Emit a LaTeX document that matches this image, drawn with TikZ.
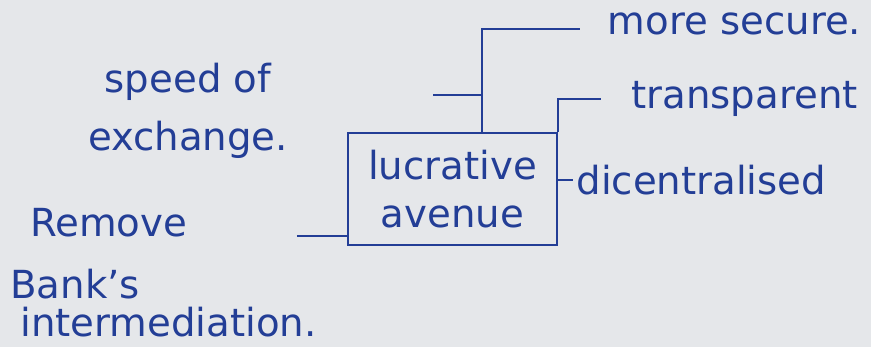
\documentclass[tikz,border=0pt]{standalone}
\usepackage{fontspec}
\setmainfont{DejaVu Sans}
\usepackage{tikz}
\usetikzlibrary{calc}
\usetikzlibrary{positioning}

\definecolor{ink}{RGB}{35,62,150}
\definecolor{paper}{RGB}{229,231,234}

\tikzset{
  pen/.style={draw=ink,line width=1.3pt},
  word/.style={text=ink,font=\fontsize{22}{27}\selectfont,inner sep=0pt},
}

\begin{document}
\begin{tikzpicture}

\fill[paper] (0,0) rectangle (17.42,6.94);
\useasboundingbox (0,0) rectangle (17.42,6.94);

\node[pen,word,minimum width=4.18cm,minimum height=2.24cm,align=center] (box) at (9.05,3.16) {lucrative\\[0pt]avenue};

% branch above the box
\coordinate (top) at ($(box.north west)!0.64!(box.north east)$);
\coordinate (bend) at ($(top)+(0,2.06)$);
\coordinate (secend) at ($(bend)+(1.96,0)$);
\coordinate (spdjoin) at ($(top)+(0,0.74)$);
\coordinate (spdend) at ($(spdjoin)+(-0.98,0)$);
\draw[pen] (top) -- (bend) -- (secend);
\draw[pen] (spdend) -- (spdjoin);

% right side
\coordinate (trbend) at ($(box.north east)+(0,0.66)$);
\coordinate (trend) at ($(trbend)+(0.86,0)$);
\draw[pen] (box.north east) -- (trbend) -- (trend);
\coordinate (dcjoin) at ($(box.north east)!0.42!(box.south east)$);
\coordinate (dcend) at ($(dcjoin)+(0.3,0)$);
\draw[pen] (dcjoin) -- (dcend);

% left side
\coordinate (rmjoin) at ($(box.north west)!0.91!(box.south west)$);
\coordinate (rmend) at ($(rmjoin)+(-1.0,0)$);
\draw[pen] (rmend) -- (rmjoin);

\node[word,right=0.55cm of secend,anchor=west,yshift=0.1cm] (secure) {more secure.};
\node[word,right=0.6cm of trend,anchor=west] (transp) {transparent};
\node[word,right=0.06cm of dcend,anchor=west] (decent) {dicentralised};

\node[word,align=center] (speed) at (3.76,4.72) {speed of\\[6pt]exchange.};

\node[word,anchor=west] (remove) at (0.6,2.48) {Remove};
\node[word,anchor=west] (banks) at (0.2,1.26) {Bank's};
\node[word,anchor=west] (inter) at (0.4,0.5) {intermediation.};

\end{tikzpicture}
\end{document}
